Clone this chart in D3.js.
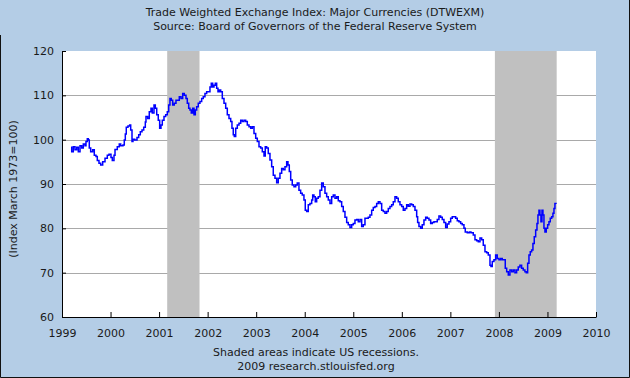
<!DOCTYPE html>
<html><head><meta charset="utf-8">
<script src="https://cdn.jsdelivr.net/npm/d3@7"></script>
<style>html,body{margin:0;padding:0;background:#b4cde6;} svg{display:block}</style>
</head><body><svg id="c" width="630" height="378"></svg>
<script>
// ---- data (decimal years, index values) ----
const dates = [
1999.185,1999.200,1999.233,1999.268,1999.303,1999.336,1999.371,1999.406,1999.439,1999.474,1999.494,1999.521,1999.542,1999.562,1999.591,1999.632,1999.665,1999.700,1999.727,1999.762,1999.797,1999.838,1999.886,1999.933,1999.968,
2000.009,2000.036,2000.071,2000.092,2000.139,2000.180,2000.209,2000.256,2000.283,2000.304,2000.324,2000.359,2000.394,2000.415,2000.442,2000.462,2000.497,2000.545,2000.580,2000.613,2000.648,2000.683,2000.716,2000.730,2000.765,2000.798,2000.833,2000.860,2000.895,2000.922,2000.951,2000.983,
2001.012,2001.039,2001.066,2001.101,2001.136,2001.169,2001.198,2001.224,2001.251,2001.280,2001.313,2001.348,2001.383,2001.416,2001.451,2001.486,2001.519,2001.554,2001.581,2001.610,2001.636,2001.663,2001.692,2001.719,2001.746,2001.774,2001.807,2001.842,2001.877,2001.910,2001.945,2001.980,
2002.013,2002.048,2002.075,2002.104,2002.131,2002.158,2002.186,2002.213,2002.240,2002.269,2002.302,2002.337,2002.372,2002.405,2002.440,2002.475,2002.501,2002.528,2002.549,2002.578,2002.611,2002.646,2002.681,2002.714,2002.749,2002.784,2002.817,2002.852,2002.887,2002.920,2002.955,2002.990,
2003.023,2003.058,2003.093,2003.126,2003.161,2003.187,2003.216,2003.249,2003.284,2003.319,2003.352,2003.387,2003.422,2003.455,2003.490,2003.525,2003.558,2003.593,2003.628,2003.655,2003.682,2003.711,2003.743,2003.779,2003.814,2003.846,2003.881,2003.916,2003.949,2003.984,
2004.011,2004.040,2004.073,2004.108,2004.143,2004.164,2004.190,2004.217,2004.246,2004.279,2004.314,2004.349,2004.382,2004.417,2004.452,2004.485,2004.520,2004.555,2004.588,2004.623,2004.658,2004.691,2004.726,2004.761,2004.794,2004.829,2004.864,2004.897,2004.932,2004.967,
2005.000,2005.035,2005.070,2005.103,2005.138,2005.173,2005.206,2005.241,2005.276,2005.309,2005.344,2005.379,2005.412,2005.447,2005.482,2005.515,2005.550,2005.585,2005.618,2005.653,2005.688,2005.721,2005.756,2005.791,2005.824,2005.859,2005.894,2005.927,2005.962,2005.997,
2006.030,2006.065,2006.100,2006.133,2006.168,2006.203,2006.236,2006.271,2006.306,2006.326,2006.353,2006.388,2006.421,2006.456,2006.491,2006.524,2006.559,2006.594,2006.627,2006.662,2006.697,2006.730,2006.765,2006.800,2006.833,2006.868,2006.903,2006.936,2006.971,
2007.006,2007.039,2007.074,2007.109,2007.142,2007.177,2007.212,2007.245,2007.280,2007.307,2007.348,2007.389,2007.424,2007.472,2007.507,2007.542,2007.575,2007.610,2007.645,2007.678,2007.713,2007.748,2007.781,2007.816,2007.836,2007.863,2007.898,2007.933,2007.966,
2008.001,2008.036,2008.069,2008.104,2008.131,2008.160,2008.193,2008.227,2008.262,2008.296,2008.330,2008.365,2008.398,2008.433,2008.468,2008.501,2008.536,2008.563,2008.592,2008.619,2008.646,2008.674,2008.701,2008.728,2008.757,2008.784,2008.804,2008.825,2008.845,2008.866,2008.887,2008.907,2008.928,2008.948,2008.975,
2009.004,2009.031,2009.058,2009.087,2009.113,2009.134,2009.154,2009.175
];
const values = [
98.3,97.3,98.4,97.7,98.3,97.3,98.6,98.1,99.0,98.6,99.6,100.2,99.9,98.1,97.3,97.7,96.5,96.2,95.3,94.7,94.3,95.0,95.8,96.5,96.7,
96.0,95.3,96.5,97.8,98.4,99.0,98.6,98.8,99.9,101.3,102.8,103.1,103.3,102.2,99.6,100.1,99.9,100.5,101.1,101.8,102.2,102.8,104.0,105.2,104.8,106.3,107.1,106.0,107.8,107.1,105.6,104.4,
102.6,103.3,104.4,105.2,105.6,106.3,107.8,109.3,108.9,107.8,108.2,108.9,108.9,109.7,109.3,110.4,110.0,109.3,108.2,107.1,106.7,106.0,107.1,105.6,106.7,107.4,108.2,108.6,109.3,109.7,110.4,110.8,
110.8,111.9,112.7,111.9,112.3,112.7,111.6,110.8,111.2,110.8,109.3,108.2,107.1,105.6,104.8,104.1,102.6,101.1,100.7,102.6,103.3,103.7,104.4,104.1,104.4,104.1,103.3,102.9,102.6,102.9,101.4,100.3,
99.6,98.4,98.1,97.3,96.3,98.4,98.1,96.9,95.4,93.9,92.0,91.3,90.3,91.3,92.4,93.5,93.2,93.9,95.0,94.3,92.8,90.9,89.8,89.4,89.8,90.2,88.6,87.9,87.5,86.4,
84.1,83.8,85.3,85.6,86.4,87.5,87.1,86.0,86.8,87.1,88.6,90.2,89.4,87.9,87.1,86.4,85.6,87.1,87.5,86.8,87.1,86.2,86.0,84.9,83.8,82.5,81.3,80.8,80.2,80.8,
81.1,81.9,82.0,81.5,82.0,80.4,80.8,82.3,82.3,82.5,83.0,84.1,84.7,84.9,85.6,86.0,85.6,84.1,83.8,83.4,83.8,84.5,84.9,85.3,86.0,87.1,86.8,86.0,85.3,84.9,
84.1,84.5,85.3,85.0,85.5,85.3,84.9,84.1,82.6,81.3,80.4,80.0,80.8,81.9,82.5,82.3,81.9,81.1,81.3,81.5,81.5,82.0,82.8,82.5,82.0,81.3,80.2,81.0,81.5,
82.3,82.6,82.6,82.3,81.7,81.5,81.1,80.8,80.0,79.2,79.0,79.2,79.0,78.5,77.4,77.2,77.0,77.8,77.4,76.2,74.7,74.5,74.0,71.7,71.4,72.5,72.9,74.0,73.2,
72.9,73.2,72.9,72.9,71.0,70.2,69.5,70.6,70.2,70.6,70.0,70.6,71.3,71.7,71.0,70.6,70.2,70.0,72.1,74.0,74.7,75.1,76.6,78.1,79.6,81.1,83.0,84.1,83.0,81.5,84.1,83.0,80.0,79.2,80.0,
80.8,81.5,82.3,82.6,83.4,84.5,85.6,85.5
];
const recessions = [[2001.167, 2001.833], [2007.917, 2009.19]];
const yTicks = [60, 70, 80, 90, 100, 110, 120];
const gridValues = [70, 80, 90, 100, 110];
const xTicks = [1999, 2000, 2001, 2002, 2003, 2004, 2005, 2006, 2007, 2008, 2009, 2010];
const titleLines = ["Trade Weighted Exchange Index: Major Currencies (DTWEXM)", "Source: Board of Governors of the Federal Reserve System"];
const footLines = ["Shaded areas indicate US recessions.", "2009 research.stlouisfed.org"];
const yLabel = "(Index March 1973=100)";

// ---- drawing ----
const W = 630, H = 378;
const m = {l: 62, r: 596, t: 51, b: 317};
const FONT = "'DejaVu Sans', Verdana, sans-serif";
const TXT = "#1a1a1a";
const svg = d3.select("#c");
const x = d3.scaleLinear().domain([1999, 2010]).range([m.l, m.r]);
const y = d3.scaleLinear().domain([60, 120]).range([m.b, m.t]);

svg.append("rect").attr("width", W).attr("height", H).attr("fill", "#b4cde6");
svg.append("rect").attr("x", m.l).attr("y", m.t).attr("width", m.r - m.l).attr("height", m.b - m.t).attr("fill", "#fff");

svg.append("g").selectAll("line").data(gridValues).join("line")
  .attr("x1", m.l).attr("x2", m.r)
  .attr("y1", d => Math.round(y(d)) + 0.5).attr("y2", d => Math.round(y(d)) + 0.5)
  .attr("stroke", "#a9a9a9").attr("stroke-width", 1);

svg.append("g").selectAll("rect").data(recessions).join("rect")
  .attr("x", d => x(d[0])).attr("width", d => x(d[1]) - x(d[0]))
  .attr("y", m.t).attr("height", m.b - m.t).attr("fill", "#c0c0c0");

const pts = dates.map((d, i) => [d, values[i]]);
svg.append("path").datum(pts)
  .attr("fill", "none").attr("stroke", "#0000ff").attr("stroke-width", 1.5).attr("stroke-linejoin", "miter")
  .attr("d", d3.line().x(d => x(d[0])).y(d => y(d[1])).curve(d3.curveStepAfter));

const ax = svg.append("g").attr("transform", `translate(${m.l},0)`)
  .call(d3.axisLeft(y).tickValues(yTicks).tickSizeInner(-4).tickSizeOuter(0).tickPadding(8));
const bx = svg.append("g").attr("transform", `translate(0,${m.b})`)
  .call(d3.axisBottom(x).tickValues(xTicks).tickFormat(d3.format("d")).tickSizeInner(-5).tickSizeOuter(0).tickPadding(12));
[ax, bx].forEach(g => {
  g.select(".domain").attr("stroke", "#000");
  g.selectAll(".tick line").attr("stroke", "#000");
  g.selectAll("text").attr("font-family", FONT).attr("font-size", 11).attr("fill", TXT);
});

svg.append("g").selectAll("text").data(titleLines).join("text")
  .attr("x", 315).attr("y", (d, i) => 16 + i * 13.5).attr("text-anchor", "middle")
  .attr("font-family", FONT).attr("font-size", 11).attr("fill", TXT).text(d => d);
svg.append("g").selectAll("text").data(footLines).join("text")
  .attr("x", 316).attr("y", (d, i) => 356 + i * 13.5).attr("text-anchor", "middle")
  .attr("font-family", FONT).attr("font-size", 11).attr("fill", TXT).text(d => d);
svg.append("text").attr("transform", "translate(13,189) rotate(-90)").attr("text-anchor", "middle")
  .attr("dominant-baseline", "central").attr("font-family", FONT).attr("font-size", 11).attr("fill", TXT).text(yLabel);

// frame
svg.append("path").attr("d", `M0.5,35V${H-0.5}H${W-0.5}V0`).attr("fill", "none").attr("stroke", "#111").attr("stroke-width", 1);
</script></body></html>
